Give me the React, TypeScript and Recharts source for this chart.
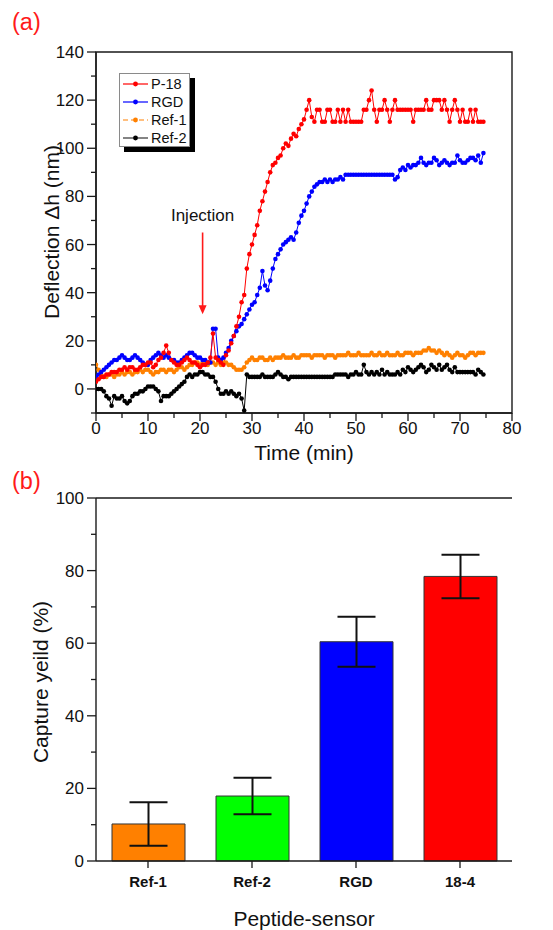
import React from 'react';
import {
  LineChart, Line, XAxis, YAxis, ReferenceArea, ReferenceLine, ReferenceDot,
  BarChart, Bar, Cell, ErrorBar,
} from 'recharts';

const FONT = '"Liberation Sans", Arial, Helvetica, sans-serif';
const AX = '#1a1a1a';

// ---------- Panel (a): deflection vs time ----------
const time = [
  0, 0.5, 1, 1.5, 2, 2.5, 3, 3.5, 4, 4.5,
  5, 5.5, 6, 6.5, 7, 7.5, 8, 8.5, 9, 9.5,
  10, 10.5, 11, 11.5, 12, 12.5, 13, 13.5, 14, 14.5,
  15, 15.5, 16, 16.5, 17, 17.5, 18, 18.5, 19, 19.5,
  20, 20.5, 21, 21.5, 22, 22.5, 23, 23.5, 24, 24.5,
  25, 25.5, 26, 26.5, 27, 27.5, 28, 28.5, 29, 29.5,
  30, 30.5, 31, 31.5, 32, 32.5, 33, 33.5, 34, 34.5,
  35, 35.5, 36, 36.5, 37, 37.5, 38, 38.5, 39, 39.5,
  40, 40.5, 41, 41.5, 42, 42.5, 43, 43.5, 44, 44.5,
  45, 45.5, 46, 46.5, 47, 47.5, 48, 48.5, 49, 49.5,
  50, 50.5, 51, 51.5, 52, 52.5, 53, 53.5, 54, 54.5,
  55, 55.5, 56, 56.5, 57, 57.5, 58, 58.5, 59, 59.5,
  60, 60.5, 61, 61.5, 62, 62.5, 63, 63.5, 64, 64.5,
  65, 65.5, 66, 66.5, 67, 67.5, 68, 68.5, 69, 69.5,
  70, 70.5, 71, 71.5, 72, 72.5, 73, 73.5, 74, 74.5,
];

const p18 = [
  3, 4, 5, 5, 6, 6, 7, 7, 7, 8,
  8, 9, 8, 9, 9, 8, 8, 9, 10, 10,
  11, 11, 9, 10, 12, 13, 15, 18, 15, 12,
  11, 10, 10, 11, 12, 13, 12, 11, 11, 10,
  9, 10, 10, 11, 13, 23, 13, 12, 11, 10,
  14, 16, 19, 22, 26, 30, 36, 39, 50, 56,
  60, 64, 68, 74, 78, 82, 86, 90, 93, 94,
  96, 97, 100, 102, 101, 104, 106, 105, 108, 110,
  112, 116, 120, 113, 111, 116, 116, 111, 111, 116,
  116, 111, 111, 116, 111, 116, 111, 116, 111, 111,
  111, 111, 111, 116, 116, 120, 124, 116, 111, 116,
  116, 120, 116, 111, 116, 120, 116, 116, 116, 116,
  116, 116, 111, 116, 116, 116, 116, 120, 116, 116,
  120, 120, 120, 116, 120, 116, 111, 116, 120, 116,
  111, 116, 111, 111, 116, 111, 116, 111, 111, 111,
];

const rgd = [
  5, 6, 7, 8, 9, 10, 11, 12, 12, 13,
  14, 13, 12, 12, 13, 14, 13, 12, 11, 10,
  10, 12, 13, 14, 15, 14, 13, 14, 13, 12,
  12, 11, 11, 12, 13, 14, 15, 15, 14, 13,
  13, 12, 12, 11, 11, 25, 25, 13, 12, 13,
  15, 17, 20, 22, 24, 26, 27, 29, 31, 33,
  35, 36, 39, 42, 49, 43, 41, 45, 50, 54,
  56, 58, 60, 61, 62, 63, 62, 65, 69, 72,
  74, 77, 80, 82, 84, 85, 86, 86, 87, 86,
  87, 86, 87, 87, 88, 87, 89, 89, 89, 89,
  89, 89, 89, 89, 89, 89, 89, 89, 89, 89,
  89, 89, 89, 89, 89, 87, 88, 91, 92, 91,
  93, 92, 93, 93, 94, 96, 94, 93, 94, 94,
  96, 95, 93, 94, 95, 94, 93, 94, 94, 97,
  95, 94, 94, 95, 96, 96, 95, 97, 94, 98,
];

const ref1 = [
  10, 8, 6, 5, 5, 6, 6, 5, 6, 6,
  7, 6, 7, 7, 6, 7, 7, 8, 7, 8,
  8, 7, 6, 7, 7, 8, 8, 7, 8, 8,
  7, 8, 9, 9, 8, 9, 10, 10, 11, 11,
  10, 11, 11, 10, 11, 11, 10, 11, 10, 11,
  11, 10, 10, 9, 8, 8, 8, 9, 11, 12,
  13, 12, 12, 13, 13, 12, 12, 13, 12, 13,
  13, 13, 14, 13, 13, 13, 14, 13, 13, 14,
  14, 14, 14, 13, 14, 14, 14, 14, 13, 14,
  14, 14, 13, 14, 14, 14, 14, 15, 14, 14,
  14, 15, 14, 14, 14, 14, 15, 14, 14, 15,
  14, 14, 15, 14, 14, 14, 15, 14, 14, 15,
  15, 15, 14, 15, 15, 15, 16, 16, 17, 16,
  16, 15, 16, 15, 14, 15, 14, 13, 14, 15,
  14, 14, 13, 14, 15, 15, 14, 15, 15, 15,
];

const ref2 = [
  0, 0, 0, -1, -3, -4, -7, -3, -4, -4,
  -3, -5, -6, -5, -3, -2, -2, -1, -1, 0,
  1, 1, 1, 0, -1, -5, -3, -3, -3, -2,
  -1, 0, 1, 2, 3, 5, 6, 5, 6, 6,
  7, 7, 6, 6, 5, 5, 3, 0, -2, -2,
  -1, -2, -1, -2, -3, -2, -4, -9, 6, 5,
  5, 5, 5, 5, 6, 5, 5, 5, 5, 6,
  7, 6, 5, 5, 4, 5, 5, 5, 5, 5,
  5, 5, 5, 5, 5, 5, 5, 5, 5, 5,
  5, 5, 6, 6, 6, 6, 6, 5, 6, 6,
  7, 6, 6, 10, 7, 6, 7, 6, 7, 6,
  8, 6, 7, 6, 6, 6, 7, 6, 8, 7,
  9, 8, 7, 8, 9, 10, 9, 7, 8, 10,
  9, 8, 10, 8, 9, 10, 8, 7, 9, 7,
  7, 7, 7, 7, 7, 7, 6, 8, 7, 6,
];

const seriesKeys = ['p18', 'rgd', 'ref1', 'ref2'];
const seriesNames = ['P-18', 'RGD', 'Ref-1', 'Ref-2'];
const seriesColors = ['#FF0000', '#0000FF', '#FF8000', '#000000'];
const legendLineColors = ['#FF0000', '#0000FF', '#FF8000', '#333333'];

const xTicksA = [0, 5, 10, 15, 20, 25, 30, 35, 40, 45, 50, 55, 60, 65, 70, 75, 80];
const yTicksA = [-10, 0, 10, 20, 30, 40, 50, 60, 70, 80, 90, 100, 110, 120, 130, 140];

const injectionTime = 20.5;
const injectionTextLevel = 72;
const injectionArrowTop = 65;
const injectionArrowTip = 31;

// ---------- Panel (b): capture yield ----------
const categories = ['Ref-1', 'Ref-2', 'RGD', '18-4'];
const yieldValues = [10.2, 17.9, 60.4, 78.4];
const yieldErrors = [6.0, 5.0, 6.9, 6.0];
const barColors = ['#FF8000', '#00FF00', '#0000FF', '#FF0000'];
const yTicksB = [0, 10, 20, 30, 40, 50, 60, 70, 80, 90, 100];

// ---------- helpers ----------
const tickText = { fontFamily: FONT, fontSize: 17, fill: '#111' } as const;

const renderXTickA = (p: any) => {
  const v = p.payload.value;
  const major = v % 10 === 0;
  return (
    <g>
      <line x1={p.x} x2={p.x} y1={p.y} y2={p.y + (major ? 8 : 5)} stroke={AX} strokeWidth={1.3} />
      {major && (
        <text x={p.x} y={p.y + 21} textAnchor="middle" {...tickText}>{v}</text>
      )}
    </g>
  );
};

const renderYTick = (majorStep: number) => (p: any) => {
  const v = p.payload.value;
  const major = v >= 0 && v % majorStep === 0;
  return (
    <g>
      <line x1={p.x} x2={p.x - (major ? 9 : 5)} y1={p.y} y2={p.y} stroke={AX} strokeWidth={1.3} />
      {major && (
        <text x={p.x - 12} y={p.y + 6} textAnchor="end" {...tickText}>{v}</text>
      )}
    </g>
  );
};

const renderXTickB = (p: any) => (
  <g>
    <line x1={p.x} x2={p.x} y1={p.y} y2={p.y + 7} stroke={AX} strokeWidth={1.3} />
    <text x={p.x} y={p.y + 26} textAnchor="middle" fontFamily={FONT} fontSize={15} fontWeight="bold" fill="#111">
      {p.payload.value}
    </text>
  </g>
);

const titleH = (cx: number, cy: number, text: string) => () => (
  <text x={cx} y={cy} textAnchor="middle" dominantBaseline="central" fontFamily={FONT} fontSize={21} fill="#111">
    {text}
  </text>
);

const titleV = (cx: number, cy: number, text: string) => () => (
  <text x={cx} y={cy} transform={`rotate(-90 ${cx} ${cy})`} textAnchor="middle" dominantBaseline="central" fontFamily={FONT} fontSize={21} fill="#111">
    {text}
  </text>
);

export default function App() {
  const lineData = time.map((t, i) => ({ t, p18: p18[i], rgd: rgd[i], ref1: ref1[i], ref2: ref2[i] }));
  const barData = categories.map((name, i) => ({ name, value: yieldValues[i], err: yieldErrors[i] }));
  const drawOrder = [3, 2, 1, 0];

  return (
    <div style={{ position: 'absolute', left: 0, top: 0, width: 553, height: 930, background: '#fff', fontFamily: FONT }}>
      <div style={{ position: 'absolute', left: 0, top: 0 }}>
        <LineChart width={553} height={470} data={lineData} margin={{ top: 52, right: 41, bottom: 0, left: 0 }}>
          <XAxis
            dataKey="t" type="number" domain={[0, 80]} ticks={xTicksA} interval={0}
            tickSize={0} tickMargin={0} tickLine={false} tick={renderXTickA}
            axisLine={{ stroke: AX, strokeWidth: 1.4 }} height={57} allowDataOverflow
            label={titleH(304, 452, 'Time (min)')}
          />
          <YAxis
            type="number" domain={[-10, 140]} ticks={yTicksA} interval={0} width={96}
            tickSize={0} tickMargin={0} tickLine={false} tick={renderYTick(20)}
            axisLine={{ stroke: AX, strokeWidth: 1.4 }} allowDataOverflow
            label={titleV(51, 232, 'Deflection Δh (nm)')}
          />
          <ReferenceArea x1={0} x2={80} y1={-10} y2={140} fill="none" stroke={AX} strokeWidth={1.4} ifOverflow="visible" />
          {drawOrder.map((i) => (
            <Line
              key={seriesKeys[i]}
              type="linear"
              dataKey={seriesKeys[i]}
              name={seriesNames[i]}
              stroke={seriesColors[i]}
              strokeWidth={1}
              dot={{ r: 2.3, fill: seriesColors[i], stroke: seriesColors[i], strokeWidth: 0 }}
              activeDot={false}
              isAnimationActive={false}
            />
          ))}
          <ReferenceLine
            segment={[{ x: injectionTime, y: injectionArrowTop }, { x: injectionTime, y: injectionArrowTip + 3 }]}
            stroke="#FF1A1A" strokeWidth={1.6}
          />
          <ReferenceDot
            x={injectionTime} y={injectionArrowTip}
            shape={(p: any) => (
              <path d={`M${p.cx - 4},${p.cy - 9} L${p.cx + 4},${p.cy - 9} L${p.cx},${p.cy} Z`} fill="#FF1A1A" />
            )}
          />
          <ReferenceDot
            x={injectionTime} y={injectionTextLevel}
            shape={(p: any) => (
              <text x={p.cx} y={p.cy} textAnchor="middle" dominantBaseline="central" fontFamily={FONT} fontSize={17} fill="#111">
                Injection
              </text>
            )}
          />
        </LineChart>
      </div>

      {/* legend of panel (a) */}
      <div style={{ position: 'absolute', left: 119, top: 73, width: 71, height: 74, border: '1px solid #8a8a8a', background: '#fff', boxShadow: '5px 5px 0 #000', boxSizing: 'border-box' }}>
        {seriesNames.map((n, i) => (
          <div key={n} style={{ position: 'absolute', left: 0, top: 0.5 + i * 18.3, height: 18, display: 'flex', alignItems: 'center' }}>
            <svg width={31} height={18} style={{ display: 'block' }}>
              <line x1={3} x2={28} y1={9} y2={9} stroke={legendLineColors[i]} strokeWidth={1.2} strokeDasharray={i === 2 ? '5 3' : undefined} />
              <circle cx={15.5} cy={9} r={2.4} fill={seriesColors[i]} />
            </svg>
            <span style={{ fontSize: 14.5, lineHeight: '18px', color: '#111', fontFamily: FONT }}>{n}</span>
          </div>
        ))}
      </div>

      <div style={{ position: 'absolute', left: 0, top: 470 }}>
        <BarChart width={553} height={460} data={barData} margin={{ top: 28, right: 41, bottom: 0, left: 0 }} barCategoryGap={0}>
          <XAxis
            dataKey="name" interval={0} tickSize={0} tickMargin={0} tickLine={false}
            tick={renderXTickB} axisLine={{ stroke: AX, strokeWidth: 1.4 }} height={69}
            label={titleH(304, 448, 'Peptide-sensor')}
          />
          <YAxis
            type="number" domain={[0, 100]} ticks={yTicksB} interval={0} width={96}
            tickSize={0} tickMargin={0} tickLine={false} tick={renderYTick(20)}
            axisLine={{ stroke: AX, strokeWidth: 1.4 }}
            label={titleV(40, 212, 'Capture yeild (%)')}
          />
          <YAxis yAxisId="r" orientation="right" width={0} domain={[0, 100]} tick={false} tickLine={false} axisLine={{ stroke: AX, strokeWidth: 1.4 }} />
          <ReferenceLine y={100} stroke={AX} strokeWidth={1.4} />
          <Bar dataKey="value" barSize={73} stroke="#333" strokeWidth={1} isAnimationActive={false}>
            {barData.map((d, i) => (
              <Cell key={d.name} fill={barColors[i]} />
            ))}
            <ErrorBar dataKey="err" width={19} strokeWidth={2} stroke="#111" />
          </Bar>
        </BarChart>
      </div>

      <svg width={553} height={930} style={{ position: 'absolute', left: 0, top: 0, pointerEvents: 'none' }}>
        <text x={12} y={30} fontFamily={FONT} fontSize={23.5} fill="#FF1A1A">(a)</text>
        <text x={12} y={489} fontFamily={FONT} fontSize={23.5} fill="#FF1A1A">(b)</text>
      </svg>
    </div>
  );
}
